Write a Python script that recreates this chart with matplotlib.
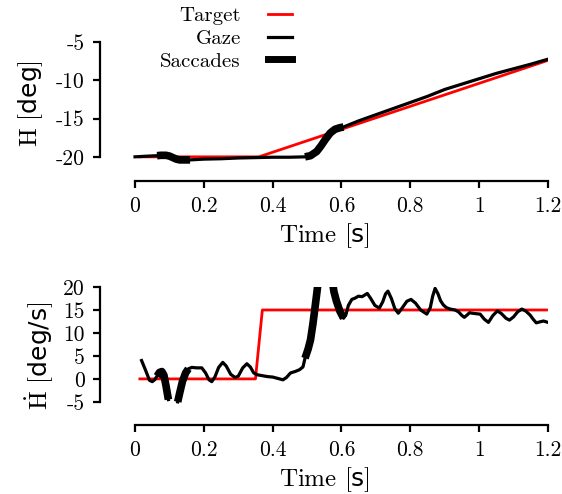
import numpy as np
import matplotlib
matplotlib.use("Agg")
import matplotlib.pyplot as plt
from matplotlib.lines import Line2D

plt.rcParams['font.family'] = 'cmr10'
plt.rcParams['mathtext.fontset'] = 'custom'
plt.rcParams['mathtext.rm'] = 'cmr10'
plt.rcParams['mathtext.sf'] = 'DejaVu Sans'
plt.rcParams['mathtext.fallback'] = 'cm'
plt.rcParams['axes.unicode_minus'] = False

# target (position and velocity)
t_target_pos = [0.01, 0.36, 1.2]
h_target = [-20.0, -20.0, -7.4]
t_target_vel = [0.01, 0.35, 0.37, 1.2]
v_target = [0.0, 0.0, 15.0, 15.0]

# gaze position [deg]
t_pos = [0.0, 0.02, 0.04, 0.064, 0.075, 0.09, 0.10, 0.11, 0.12, 0.13, 0.145, 0.16, 0.2, 0.25,
         0.3, 0.35, 0.4, 0.45, 0.494, 0.51, 0.528, 0.54, 0.552, 0.567, 0.581, 0.595, 0.606,
         0.65, 0.7, 0.75, 0.8, 0.85, 0.9, 0.95, 1.0, 1.05, 1.1, 1.15, 1.2]
h_gaze = [-20.0, -19.95, -19.9, -19.85, -19.8, -19.8, -19.9, -20.1, -20.3, -20.4, -20.4, -20.4,
          -20.3, -20.25, -20.15, -20.1, -20.05, -20.05, -20.0, -19.85, -19.3, -18.6, -17.8,
          -16.9, -16.4, -16.2, -16.1, -15.3, -14.5, -13.7, -12.9, -12.1, -11.2, -10.5, -9.8,
          -9.1, -8.5, -7.9, -7.25]

# gaze velocity [deg/s] (nan = out of range)
t_vel = [0.019, 0.03, 0.042, 0.05, 0.057, 0.064, 0.071, 0.078, 0.084, 0.09, 0.097, 0.11,
         0.124, 0.13, 0.138, 0.147, 0.155, 0.165, 0.18, 0.194, 0.205, 0.215, 0.223, 0.232,
         0.243, 0.255, 0.265, 0.278, 0.291, 0.3, 0.313, 0.325, 0.335, 0.345, 0.355, 0.37,
         0.385, 0.4, 0.415, 0.43, 0.44, 0.452, 0.465, 0.478, 0.488, 0.494, 0.503, 0.51,
         0.517, 0.523, 0.528, 0.532, 0.55, 0.574, 0.578, 0.585, 0.595, 0.606, 0.613, 0.62,
         0.63, 0.64, 0.649, 0.66, 0.675, 0.685, 0.697, 0.71, 0.72, 0.728, 0.735, 0.745,
         0.755, 0.765, 0.775, 0.79, 0.802, 0.815, 0.83, 0.848, 0.858, 0.865, 0.872, 0.88,
         0.888, 0.896, 0.905, 0.916, 0.93, 0.94, 0.95, 0.957, 0.965, 0.972, 0.98, 0.99,
         1.003, 1.015, 1.027, 1.04, 1.053, 1.065, 1.078, 1.088, 1.1, 1.112, 1.124, 1.135,
         1.148, 1.158, 1.166, 1.176, 1.187, 1.2]
v_gaze = [4.0, 2.0, -0.3, -0.6, -0.2, 0.6, 1.4, 1.6, 0.8, -1.5, -4.5, np.nan,
          -5.0, -3.0, -0.5, 1.3, 2.2, 2.5, 2.4, 2.4, 1.3, -0.2, -0.6, 0.4,
          2.5, 3.6, 2.8, 1.0, 0.3, 0.6, 2.4, 3.3, 2.6, 1.3, 0.9, 0.7,
          0.5, 0.4, 0.1, -0.2, 0.3, 1.3, 1.6, 2.0, 2.6, 4.5, 6.5, 8.5,
          12.0, 15.5, 18.5, 21.0, np.nan, 21.0, 19.0, 17.0, 14.8, 13.2, 14.0, 16.0,
          17.3, 17.6, 18.0, 17.9, 18.6, 17.5, 16.0, 15.4, 16.8, 18.5, 19.1, 17.5,
          15.3, 14.3, 15.3, 16.9, 17.3, 16.5, 15.0, 14.1, 15.5, 18.0, 19.7, 18.6,
          17.0, 16.1, 15.5, 15.2, 15.0, 14.6, 13.8, 13.4, 13.9, 14.4, 14.3, 14.2,
          14.1, 13.0, 12.3, 13.8, 14.8, 14.2, 13.2, 12.8, 13.5, 14.6, 15.2, 14.8,
          13.9, 12.9, 12.2, 12.4, 12.6, 12.3]

# saccade intervals [s]
sac_start = [0.064, 0.494]
sac_end = [0.16, 0.606]

x_ticks = [0, 0.2, 0.4, 0.6, 0.8, 1, 1.2]
x_ticklabels = ['0', '0.2', '0.4', '0.6', '0.8', '1', '1.2']
h_ticks = [-5, -10, -15, -20]
v_ticks = [-5, 0, 5, 10, 15, 20]


def saccade_only(t, y):
    t = np.asarray(t)
    y = np.asarray(y, dtype=float)
    mask = np.zeros(len(t), dtype=bool)
    for a, b in zip(sac_start, sac_end):
        mask |= (t >= a) & (t <= b)
    return np.where(mask, y, np.nan)


def style(ax, yticks):
    for s in ['top', 'right']:
        ax.spines[s].set_visible(False)
    for s in ['left', 'bottom']:
        ax.spines[s].set_linewidth(1.6)
    ax.spines['bottom'].set_bounds(0, 1.2)
    ax.spines['left'].set_bounds(min(yticks), max(yticks))
    ax.set_xticks(x_ticks)
    ax.set_xticklabels(x_ticklabels)
    ax.set_yticks(yticks)
    ax.set_yticklabels([str(v) for v in yticks])
    ax.tick_params(width=1.6, length=5, labelsize=15.5, direction='out', pad=6)
    ax.set_xlim(-0.1017, 1.2)
    ax.set_xlabel(r'$\mathrm{Time\ [}\mathsf{s}\mathrm{]}$', fontsize=18, labelpad=4)


fig = plt.figure(figsize=(5.62, 4.94), dpi=100)
ax1 = fig.add_axes([0.178, 0.634, 0.797, 0.312])
ax2 = fig.add_axes([0.178, 0.140, 0.797, 0.279])

ax1.plot(t_target_pos, h_target, color='red', lw=2.0, solid_capstyle='butt')
ax1.plot(t_pos, h_gaze, color='black', lw=2.3)
ax1.plot(t_pos, saccade_only(t_pos, h_gaze), color='black', lw=5.5, solid_capstyle='butt')
ax1.set_ylim(-23.13, -3)
style(ax1, h_ticks)
ax1.set_ylabel(r'$\mathrm{H\ [}\mathsf{deg}\mathrm{]}$', fontsize=18, labelpad=8)

ax2.plot(t_target_vel, v_target, color='red', lw=2.0, solid_capstyle='butt')
ax2.plot(t_vel, v_gaze, color='black', lw=2.3)
ax2.plot(t_vel, saccade_only(t_vel, v_gaze), color='black', lw=5.5, solid_capstyle='butt')
ax2.set_ylim(-10, 20)
style(ax2, v_ticks)
ax2.set_ylabel(r'$\dot{\mathrm{H}}\mathrm{\ [}\mathsf{deg/s}\mathrm{]}$', fontsize=18, labelpad=5)

handles = [Line2D([], [], color='red', lw=2.0),
           Line2D([], [], color='black', lw=2.3),
           Line2D([], [], color='black', lw=5)]
fig.legend(handles, ['Target', 'Gaze', 'Saccades'], loc='upper right',
           bbox_to_anchor=(0.538, 1.008), frameon=False, markerfirst=False,
           fontsize=15, handlelength=1.15, handletextpad=1.3, labelspacing=0.2, borderpad=0.0)

fig.savefig('out.png', dpi=100)
